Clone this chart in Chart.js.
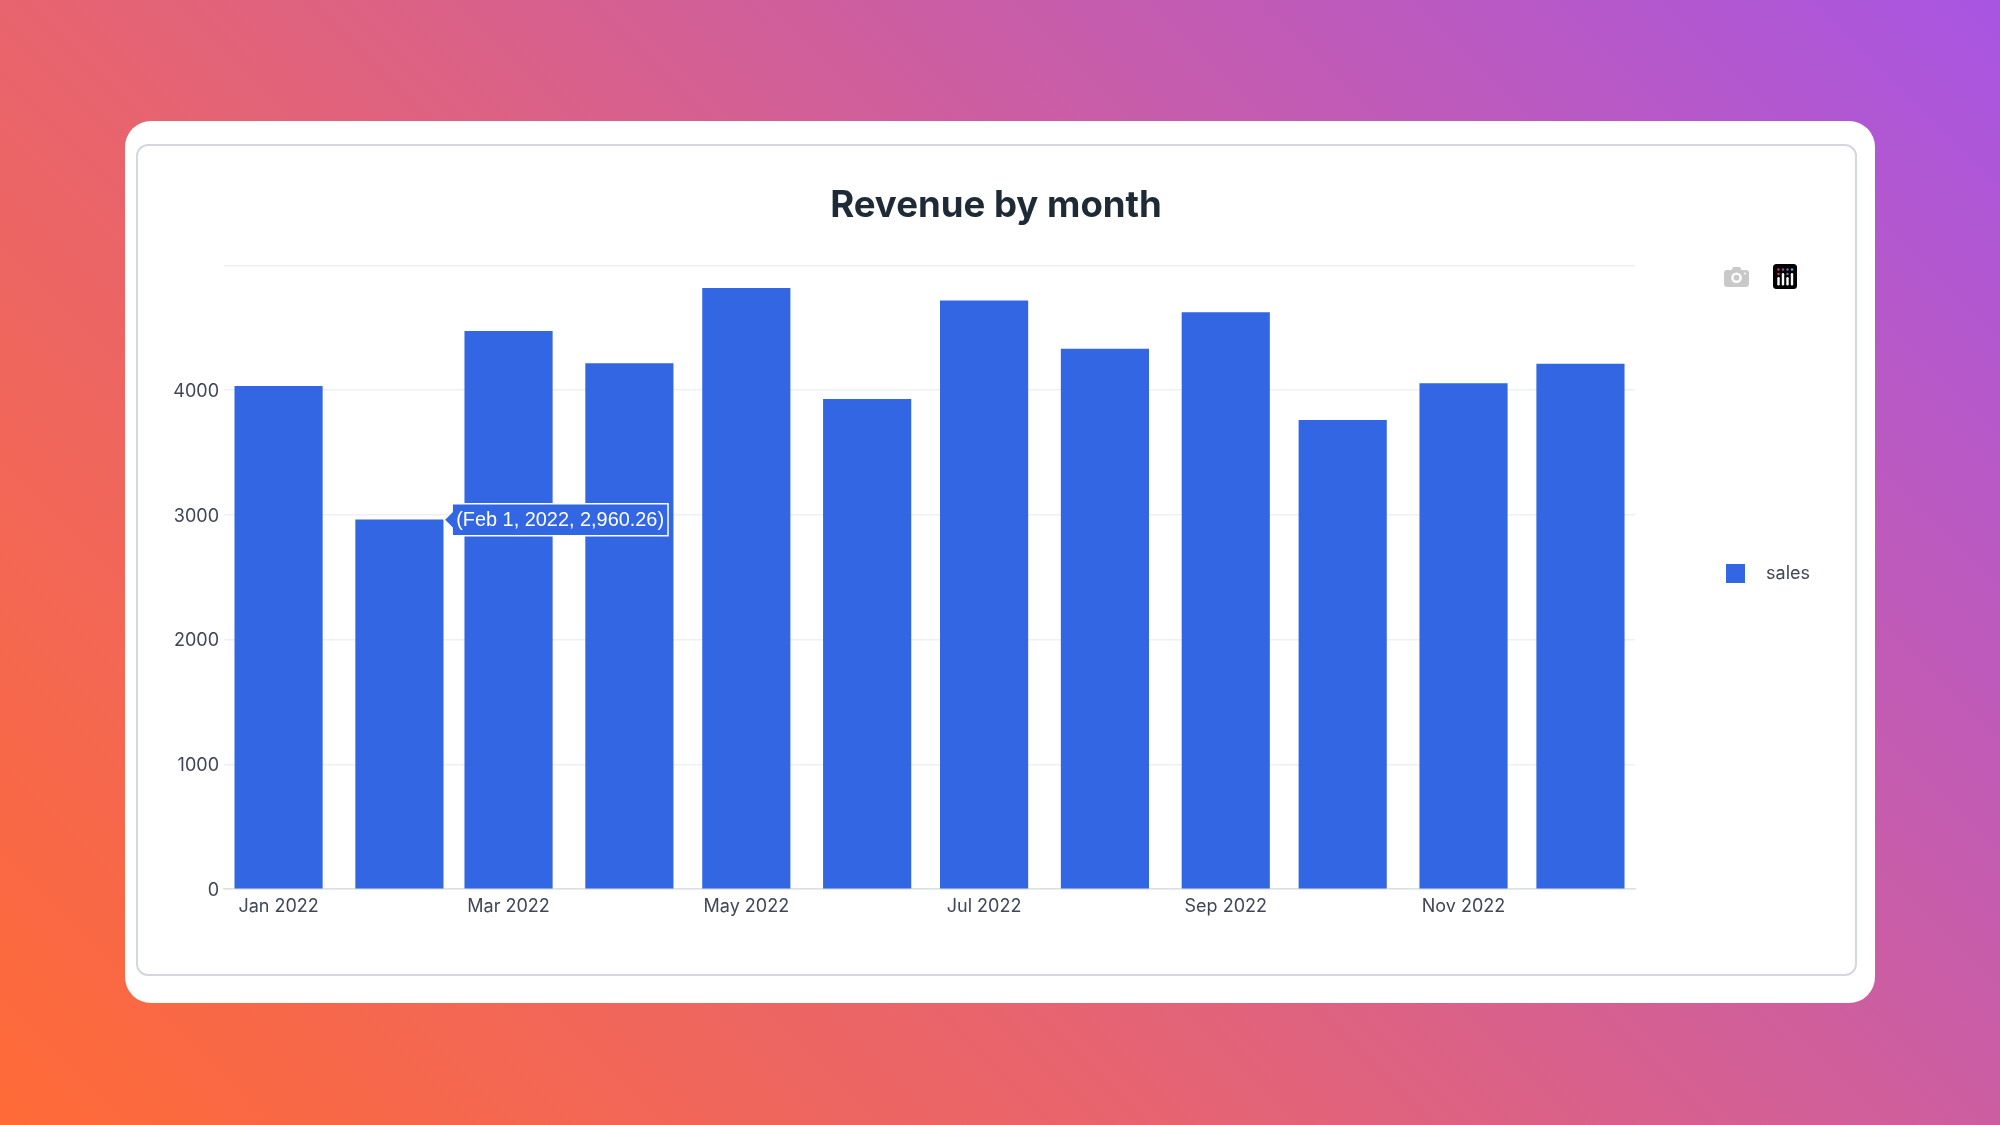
<!DOCTYPE html>
<html>
<head>
<meta charset="utf-8">
<title>Revenue by month</title>
<script src="https://cdn.jsdelivr.net/npm/chart.js@4/dist/chart.umd.js"></script>
<style>
  html, body { margin: 0; padding: 0; }
  body {
    width: 2000px; height: 1125px; overflow: hidden; position: relative;
    background: linear-gradient(45deg, #ff6a36 0%, #e8646e 36%, #a855e2 100%);
  }
  #card { position: absolute; left: 125px; top: 121px; width: 1750px; height: 882px; background: #fff; border-radius: 26px; }
  #frame {
    position: absolute; left: 135.5px; top: 143.5px; width: 1721.5px; height: 832.5px;
    box-sizing: border-box; border: 2px solid #d4d7dd; border-radius: 12px;
  }
  #revenueChart { position: absolute; left: 136px; top: 144px; }
  .icon { position: absolute; }
</style>
</head>
<body>
<div id="card"></div>
<div id="frame"></div>
<canvas id="revenueChart" width="1720" height="831"></canvas>

<svg class="icon" style="left:1724px;top:267px" width="25" height="20" viewBox="0 0 25 20">
  <path fill="#c9c9c9" fill-rule="evenodd" d="M3 3h4.5l1.5-3h7l1.5 3H22a3 3 0 0 1 3 3v11a3 3 0 0 1-3 3H3a3 3 0 0 1-3-3V6a3 3 0 0 1 3-3zm9.5 2.4a5.3 5.3 0 1 0 0 10.6 5.3 5.3 0 0 0 0-10.6zm0 2.4a2.9 2.9 0 1 1 0 5.8 2.9 2.9 0 0 1 0-5.8z"/>
  <circle cx="21" cy="6.5" r="1" fill="#fff"/>
</svg>
<svg class="icon" style="left:1773px;top:264px" width="24" height="25" viewBox="0 0 24 25">
  <rect width="24" height="25" rx="3.5" fill="#000"/>
  <circle cx="5.5" cy="5.5" r="1.2" fill="#e8336d"/>
  <circle cx="10" cy="5.5" r="1.2" fill="#b04a9a"/>
  <circle cx="14.5" cy="5.5" r="1.2" fill="#7a6fc0"/>
  <circle cx="19" cy="5.5" r="1.2" fill="#56c0e0"/>
  <circle cx="5.5" cy="10" r="1.2" fill="#e8336d"/>
  <circle cx="14.5" cy="10" r="1.2" fill="#7a6fc0"/>
  <rect x="4.3" y="13" width="2.4" height="8.5" rx="1.2" fill="#fff"/>
  <rect x="8.8" y="9" width="2.4" height="12.5" rx="1.2" fill="#fff"/>
  <rect x="13.3" y="13" width="2.4" height="8.5" rx="1.2" fill="#fff"/>
  <rect x="17.8" y="9" width="2.4" height="12.5" rx="1.2" fill="#fff"/>
</svg>

<script>
// data
const monthDates = ['2022-01-01', '2022-02-01', '2022-03-01', '2022-04-01', '2022-05-01', '2022-06-01',
                    '2022-07-01', '2022-08-01', '2022-09-01', '2022-10-01', '2022-11-01', '2022-12-01'];
const sales = [4030, 2960.26, 4471, 4212, 4816, 3926, 4717, 4329, 4621, 3758, 4052, 4209];
const xTickDates = ['2022-01-01', '2022-03-01', '2022-05-01', '2022-07-01', '2022-09-01', '2022-11-01'];
const xTickLabels = ['Jan 2022', 'Mar 2022', 'May 2022', 'Jul 2022', 'Sep 2022', 'Nov 2022'];
const yTickValues = [0, 1000, 2000, 3000, 4000, 5000];
const yTickLabels = ['0', '1000', '2000', '3000', '4000', ''];
const seriesName = 'sales';
const tooltipText = '(Feb 1, 2022, 2,960.26)';
const tooltipIndex = 1;

const DAY = 86400000;
const BLUE = '#3366e3';
const TEXT = '#3f4756';
const LEGEND_PADDING = 139;

// tooltip sits on the top right corner of its bar
Chart.Tooltip.positioners.barCorner = function (items) {
  if (!items.length) return false;
  const bar = items[0].element;
  return { x: bar.x + bar.width / 2, y: bar.y };
};

// the legend stays where plotly put it, away from the plot
const legendPin = {
  id: 'legendPin',
  afterLayout(chart) {
    const legend = chart.legend;
    legend.left = 1590 - LEGEND_PADDING;
    legend.right = 1674;
    legend.top = 418.5;
    legend.bottom = 440.5;
  }
};

const chart = new Chart(document.getElementById('revenueChart').getContext('2d'), {
  type: 'bar',
  data: {
    datasets: [{
      label: seriesName,
      data: monthDates.map((d, i) => ({ x: Date.parse(d), y: sales[i] })),
      backgroundColor: BLUE,
      borderWidth: 0,
      barThickness: 87.5
    }]
  },
  plugins: [legendPin],
  options: {
    responsive: false,
    animation: false,
    events: [],
    plugins: {
      title: {
        display: true,
        text: 'Revenue by month',
        color: '#1f2a37',
        font: { family: 'Inter', size: 36.6, weight: '700', lineHeight: 1.2 },
        padding: { top: 40, bottom: 37.5 }
      },
      legend: {
        position: 'right',
        labels: {
          color: TEXT,
          font: { family: 'Inter', size: 18 },
          boxWidth: 19,
          boxHeight: 19,
          padding: LEGEND_PADDING,
          textAlign: 'right'
        }
      },
      tooltip: {
        enabled: true,
        position: 'barCorner',
        xAlign: 'left',
        yAlign: 'center',
        backgroundColor: BLUE,
        borderColor: '#ffffff',
        borderWidth: 1.5,
        cornerRadius: 0,
        caretSize: 8,
        caretPadding: 1,
        padding: { top: 5, bottom: 3, left: 4, right: 4 },
        displayColors: false,
        bodyColor: '#ffffff',
        bodyFont: { family: 'Liberation Sans', size: 19.9 },
        callbacks: {
          title: () => '',
          label: () => tooltipText
        }
      }
    },
    scales: {
      x: {
        type: 'linear',
        offset: false,
        min: Date.parse(monthDates[0]) - 14 * DAY,
        max: Date.parse(monthDates[11]) + 14 * DAY,
        grid: { display: false, offset: false, drawTicks: false },
        border: { display: true, color: '#dcdfe4', width: 1.5 },
        afterBuildTicks: scale => { scale.ticks = xTickDates.map(d => ({ value: Date.parse(d) })); },
        afterFit: scale => { scale.height = 86; },
        ticks: {
          autoSkip: false,
          maxRotation: 0,
          padding: 7,
          color: TEXT,
          font: { family: 'Inter', size: 18 },
          callback: value => xTickLabels[xTickDates.findIndex(d => Date.parse(d) === value)]
        }
      },
      y: {
        min: 0,
        max: 5000,
        grid: { color: '#eef0f3', lineWidth: 1.5, drawTicks: false },
        border: { display: false },
        afterBuildTicks: scale => { scale.ticks = yTickValues.map(v => ({ value: v })); },
        afterFit: scale => { scale.width = 88; },
        ticks: {
          padding: 5,
          labelOffset: 1.5,
          color: TEXT,
          font: { family: 'Inter', size: 18 },
          callback: value => yTickLabels[yTickValues.indexOf(value)]
        }
      }
    }
  }
});

chart.tooltip.setActiveElements([{ datasetIndex: 0, index: tooltipIndex }], { x: 0, y: 0 });
chart.update();
</script>
</body>
</html>
